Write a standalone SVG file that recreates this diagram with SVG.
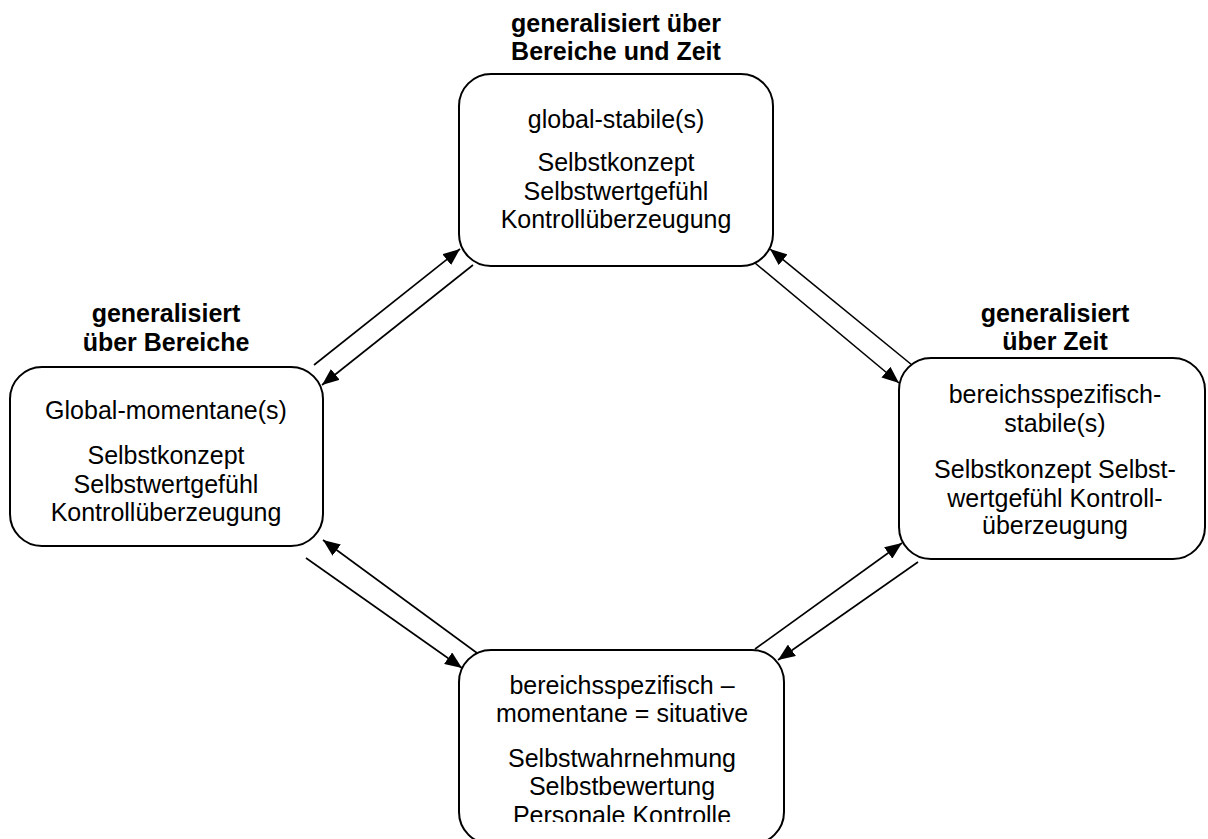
<svg xmlns="http://www.w3.org/2000/svg" width="1208" height="839" viewBox="0 0 1208 839">
  <style>
    .box { fill: #ffffff; stroke: #000000; stroke-width: 2; }
    .txt { font-family: "Liberation Sans", Arial, sans-serif; font-size: 25px; fill: #000000; text-anchor: middle; }
    .head { font-family: "Liberation Sans", Arial, sans-serif; font-size: 25px; font-weight: bold; fill: #000000; text-anchor: middle; }
    .link { stroke: #000000; stroke-width: 1.6; fill: none; marker-end: url(#arrow); }
  </style>
  <defs>
    <marker id="arrow" markerUnits="userSpaceOnUse" markerWidth="18" markerHeight="14" refX="17" refY="7" orient="auto">
      <path d="M0,0 L17,7 L0,14 z" fill="#000000"/>
    </marker>
    <clipPath id="clip-bottom-text">
      <rect x="440" y="640" width="360" height="182"/>
    </clipPath>
  </defs>
  <rect width="1208" height="839" fill="#ffffff"/>

  <!-- connectors: paired arrows between neighbouring boxes -->
  <g id="connectors">
    <line class="link" x1="314" y1="365" x2="460" y2="249"/>
    <line class="link" x1="473" y1="265" x2="322" y2="385"/>
    <line class="link" x1="755" y1="263" x2="899" y2="383"/>
    <line class="link" x1="912" y1="365" x2="770" y2="249"/>
    <line class="link" x1="306" y1="558" x2="462" y2="668"/>
    <line class="link" x1="477" y1="653" x2="323" y2="540"/>
    <line class="link" x1="755" y1="649" x2="902" y2="543"/>
    <line class="link" x1="918" y1="562" x2="778" y2="660"/>
  </g>

  <!-- top: global-stable -->
  <g id="node-global-stabil">
    <text class="head" x="616" y="32">generalisiert über</text>
    <text class="head" x="616" y="60">Bereiche und Zeit</text>
    <rect class="box" x="459" y="74" width="314" height="192" rx="32" ry="32"/>
    <text class="txt" x="616" y="128">global-stabile(s)</text>
    <text class="txt" x="616" y="171">Selbstkonzept</text>
    <text class="txt" x="616" y="200">Selbstwertgefühl</text>
    <text class="txt" x="616" y="228">Kontrollüberzeugung</text>
  </g>

  <!-- left: global-momentary -->
  <g id="node-global-momentan">
    <text class="head" x="166" y="322">generalisiert</text>
    <text class="head" x="166" y="351">über Bereiche</text>
    <rect class="box" x="10" y="367" width="313" height="179" rx="32" ry="32"/>
    <text class="txt" x="166" y="419">Global-momentane(s)</text>
    <text class="txt" x="166" y="464">Selbstkonzept</text>
    <text class="txt" x="166" y="493">Selbstwertgefühl</text>
    <text class="txt" x="166" y="521">Kontrollüberzeugung</text>
  </g>

  <!-- right: domain-specific stable -->
  <g id="node-bereich-stabil">
    <text class="head" x="1055" y="322">generalisiert</text>
    <text class="head" x="1055" y="350">über Zeit</text>
    <rect class="box" x="899" y="358" width="306" height="201" rx="32" ry="32"/>
    <text class="txt" x="1055" y="403">bereichsspezifisch-</text>
    <text class="txt" x="1055" y="432">stabile(s)</text>
    <text class="txt" x="1055" y="478">Selbstkonzept Selbst-</text>
    <text class="txt" x="1055" y="507">wertgefühl Kontroll-</text>
    <text class="txt" x="1055" y="534">überzeugung</text>
  </g>

  <!-- bottom: domain-specific momentary -->
  <g id="node-situativ">
    <rect class="box" x="459" y="650" width="325" height="194" rx="32" ry="32"/>
    <g clip-path="url(#clip-bottom-text)">
      <text class="txt" x="622" y="694">bereichsspezifisch –</text>
      <text class="txt" x="622" y="722">momentane = situative</text>
      <text class="txt" x="622" y="767">Selbstwahrnehmung</text>
      <text class="txt" x="622" y="795">Selbstbewertung</text>
      <text class="txt" x="622" y="824">Personale Kontrolle</text>
    </g>
  </g>
</svg>
